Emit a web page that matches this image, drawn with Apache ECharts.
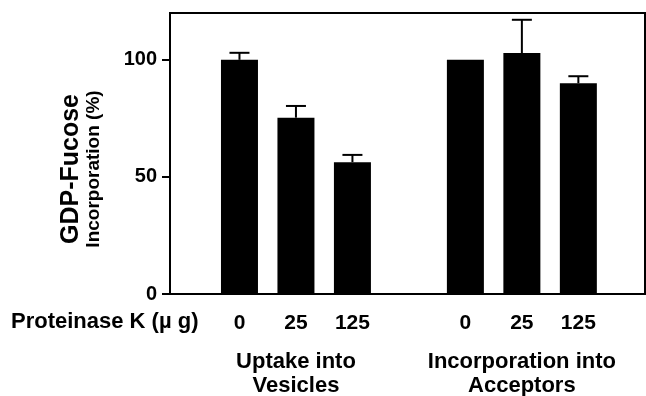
<!DOCTYPE html>
<html>
<head>
<meta charset="utf-8">
<script src="https://cdn.jsdelivr.net/npm/echarts@6/dist/echarts.min.js"></script>
<style>
  html, body { margin: 0; padding: 0; background: #fff; }
  #chart { width: 646px; height: 396px; }
</style>
</head>
<body>
<div id="chart"></div>
<script>
// data
const doses = ['0', '25', '125'];
const groupNames = ['Uptake into\nVesicles', 'Incorporation into\nAcceptors'];
const uptakeValues = [100, 75.3, 56.3];
const uptakeErrors = [3, 5, 3.1];
const acceptorValues = [100, 102.9, 90];
const acceptorErrors = [0, 14.2, 3];
const yTicks = [0, 50, 100];

const font = '"Liberation Sans", Arial, Helvetica, sans-serif';
const groupValues = [uptakeValues, acceptorValues];
const groupErrors = [uptakeErrors, acceptorErrors];

// slot on the x axis: one empty slot between the two groups
let barData = [];
let errData = [];
let doseData = [];
let doseText = [];
let groupData = [];
groupValues.forEach((vals, g) => {
  vals.forEach((v, i) => {
    let x = g * 4 + i;
    barData.push([x, v]);
    if (groupErrors[g][i] > 0) errData.push([x, v, groupErrors[g][i]]);
    doseData.push([x, 0]);
    doseText.push(doses[i]);
  });
  groupData.push([g * 4 + 1, 0]);
});

var chart = echarts.init(document.getElementById('chart'));

let option = {
  animation: false,
  backgroundColor: '#fff',
  textStyle: { fontFamily: font },
  title: {
    text: 'Proteinase K (\u00b5 g)',
    left: 11,
    top: 311,
    padding: 0,
    textStyle: { fontFamily: font, fontSize: 22, fontWeight: 'bold', color: '#000' },
  },
  grid: {
    left: 170,
    right: 1,
    top: 13,
    bottom: 102,
    show: true,
    borderColor: '#000',
    borderWidth: 2,
    outerBoundsMode: 'none',
  },
  xAxis: {
    type: 'value',
    min: -1.23,
    max: 7.18,
    axisLine: { show: true, onZero: false, lineStyle: { color: '#000', width: 2 } },
    axisTick: { show: false },
    axisLabel: { show: false },
    splitLine: { show: false },
  },
  yAxis: {
    type: 'value',
    min: 0,
    max: 120,
    interval: 50,
    name: '{a|GDP-Fucose}\n{b|Incorporation (%)}',
    nameLocation: 'middle',
    nameRotate: 90,
    nameGap: 66,
    nameTextStyle: {
      padding: [0, 31, 0, 0],
      rich: {
        a: { fontFamily: font, fontSize: 25, fontWeight: 'bold', color: '#000', lineHeight: 26 },
        b: { fontFamily: font, fontSize: 19, fontWeight: 'bold', color: '#000', lineHeight: 20 },
      },
    },
    axisLine: { show: true, onZero: false, lineStyle: { color: '#000', width: 2 } },
    axisTick: { show: true, length: 8, customValues: yTicks, lineStyle: { color: '#000', width: 2 } },
    axisLabel: {
      customValues: yTicks,
      margin: 13,
      fontFamily: font,
      fontSize: 20,
      fontWeight: 'bold',
      color: '#000',
    },
    splitLine: { show: false },
  },
  series: [
    {
      type: 'bar',
      data: barData,
      barWidth: 37,
      itemStyle: { color: '#000' },
    },
    {
      type: 'custom',
      data: errData,
      renderItem: function (params, api) {
        let x = api.value(0), v = api.value(1), e = api.value(2);
        let base = api.coord([x, v]);
        let top = api.coord([x, v + e]);
        let st = { stroke: '#000', lineWidth: 2 };
        return {
          type: 'group',
          children: [
            { type: 'line', shape: { x1: base[0], y1: base[1], x2: top[0], y2: top[1] }, style: st },
            { type: 'line', shape: { x1: top[0] - 10, y1: top[1], x2: top[0] + 10, y2: top[1] }, style: st },
          ],
        };
      },
    },
    {
      type: 'custom',
      data: doseData,
      renderItem: function (params, api) {
        let p = api.coord([api.value(0), 0]);
        return {
          type: 'text',
          style: {
            x: p[0], y: p[1] + 29,
            text: doseText[params.dataIndex],
            align: 'center', verticalAlign: 'middle',
            fontFamily: font, fontSize: 21, fontWeight: 'bold', fill: '#000',
          },
        };
      },
    },
    {
      type: 'custom',
      data: groupData,
      renderItem: function (params, api) {
        let p = api.coord([api.value(0), 0]);
        return {
          type: 'text',
          style: {
            x: p[0], y: p[1] + 80,
            text: groupNames[params.dataIndex],
            align: 'center', verticalAlign: 'middle',
            lineHeight: 24,
            fontFamily: font, fontSize: 22, fontWeight: 'bold', fill: '#000',
          },
        };
      },
    },
  ],
};

chart.setOption(option);
</script>
</body>
</html>
